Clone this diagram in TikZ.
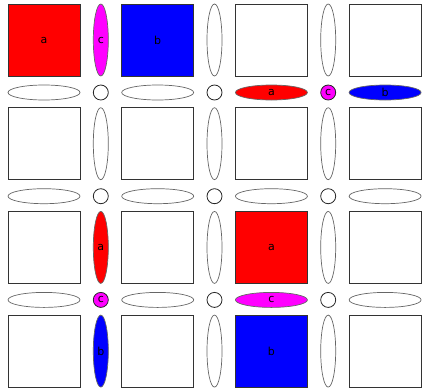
\documentclass[tikz,border=0pt]{standalone}
\usepackage{fontspec}
\setmainfont{DejaVu Sans}
\usetikzlibrary{shapes.geometric}
\definecolor{fillc}{RGB}{255,0,255}
\tikzset{
  box/.style={draw=black!80, line width=0.9pt, fill=white, minimum size=72pt, inner sep=0pt},
  vbar/.style={ellipse, draw=black!60, line width=0.7pt, fill=white, minimum width=15pt, minimum height=72pt, inner sep=0pt},
  hbar/.style={ellipse, draw=black!60, line width=0.7pt, fill=white, minimum width=72pt, minimum height=15pt, inner sep=0pt},
  dot/.style={circle, draw=black!85, line width=0.8pt, fill=white, minimum size=15pt, inner sep=0pt},
  cola/.style={fill=red, execute at begin node={a}},
  colb/.style={fill=blue, execute at begin node={b}},
  colc/.style={fill=fillc, execute at begin node={c}},
  % coloured cells
  s-1-1/.style=cola, v-1-1/.style=colc, s-2-1/.style=colb,
  h-3-1/.style=cola, o-3-1/.style=colc, h-4-1/.style=colb,
  v-1-3/.style=cola, o-1-3/.style=colc, v-1-4/.style=colb,
  s-3-3/.style=cola, h-3-3/.style=colc, s-3-4/.style=colb
}
\begin{document}
\begin{tikzpicture}[x=1pt,y=-1pt,font=\fontsize{11}{13}\selectfont]
  \useasboundingbox (0,0) rectangle (422,391);
  \def\cx#1{44+113.7*(#1-1)}
  \def\cy#1{40+103.7*(#1-1)}
  % squares
  \foreach \i in {1,...,4}
    \foreach \j in {1,...,4}
      \node[box, s-\i-\j/.try] (s-\i-\j) at ({\cx\i},{\cy\j}) {};
  % vertical ellipses
  \foreach \i in {1,...,3}
    \foreach \j in {1,...,4}
      \node[vbar, v-\i-\j/.try] (v-\i-\j) at ({\cx\i+56.8},{\cy\j}) {};
  % horizontal ellipses
  \foreach \i in {1,...,4}
    \foreach \j in {1,...,3}
      \node[hbar, h-\i-\j/.try] (h-\i-\j) at ({\cx\i},{\cy\j+52.5}) {};
  % circles
  \foreach \i in {1,...,3}
    \foreach \j in {1,...,3}
      \node[dot, o-\i-\j/.try] (o-\i-\j) at ({\cx\i+56.8},{\cy\j+52.5}) {};
\end{tikzpicture}
\end{document}
